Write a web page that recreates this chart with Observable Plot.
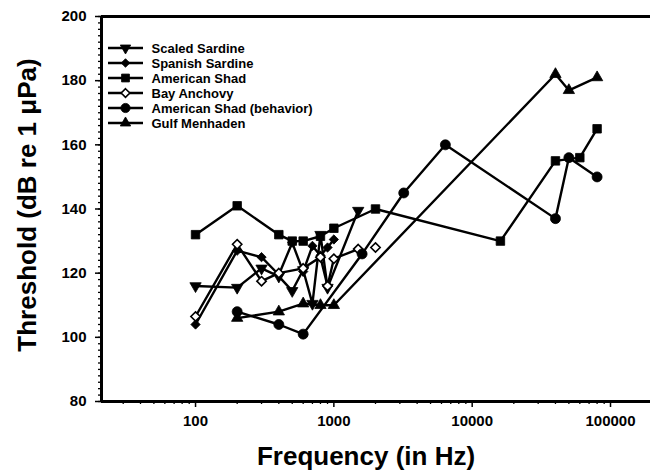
<!DOCTYPE html>
<html><head><meta charset="utf-8">
<script src="https://cdn.jsdelivr.net/npm/d3@7"></script>
<script src="https://cdn.jsdelivr.net/npm/@observablehq/plot@0.6"></script>
<style>
body{margin:0;background:#fff;}
#chart{position:relative;width:650px;height:472px;}
#legend{position:absolute;left:0;top:0;pointer-events:none;}
</style></head><body><div id="chart"></div>
<script>
// ---- data ----
const species = ["Scaled Sardine","Spanish Sardine","American Shad","Bay Anchovy","American Shad (behavior)","Gulf Menhaden"];
const symbols = ["triangle","diamond2","square","diamond2","circle","triangle"];
const rotations = [180,0,0,0,0,0];
const fills = ["black","black","black","white","black","black"];
const symbolR = [4.2,4.2,4.8,4.2,5,4.2];

const scaledSardineHz = [100,200,300,400,500,600,700,800,900,1500];
const scaledSardineDb = [116,115.5,121.5,119,114.5,121,110.5,132,115.5,139.5];
const spanishSardineHz = [100,200,300,400,500,600,700,800,900,1000];
const spanishSardineDb = [104,127,125,119.5,129.5,120.5,128.5,125.5,128,130.5];
const americanShadHz = [100,200,400,500,600,800,1000,2000,16000,40000,60000,80000];
const americanShadDb = [132,141,132,130,130,131.5,134,140,130,155,156,165];
const bayAnchovyHz = [100,200,300,400,600,800,900,1000,1500];
const bayAnchovyDb = [106.5,129,117.5,120,121.5,125,116,124.5,127.5];
const bayAnchovyLoneHz = [2000];
const bayAnchovyLoneDb = [128];
const shadBehaviorHz = [200,400,600,1600,3200,6400,40000,50000,80000];
const shadBehaviorDb = [108,104,101,126,145,160,137,156,150];
const gulfMenhadenHz = [200,400,600,800,1000,40000,50000,80000];
const gulfMenhadenDb = [106,108,110.5,110,110,182,177,181];

const seriesHz = [scaledSardineHz,spanishSardineHz,americanShadHz,bayAnchovyHz,shadBehaviorHz,gulfMenhadenHz];
const seriesDb = [scaledSardineDb,spanishSardineDb,americanShadDb,bayAnchovyDb,shadBehaviorDb,gulfMenhadenDb];

const xTicks = [100,1000,10000,100000];
const xTickLabels = ["100","1000","10000","100000"];
const yTicks = [80,100,120,140,160,180,200];
const xTitle = "Frequency (in Hz)";
const yTitle = "Threshold (dB re 1 \u03bcPa)";

// ---- build tables ----
const lineRows = [];
species.forEach((s,i)=>seriesHz[i].forEach((h,j)=>lineRows.push({species:s,hz:h,db:seriesDb[i][j]})));
const loneRows = bayAnchovyLoneHz.map((h,j)=>({species:"Bay Anchovy",hz:h,db:bayAnchovyLoneDb[j]}));

const xMinor = [];
for (const dec of [10,100,1000,10000,100000]) for (let m=2;m<=9;m++){ const v=dec*m; if (v>21 && v<194000) xMinor.push(v); }
const yMinor = d3.range(80,201,2);

const xDomain = [20.9,194600];
const font = "'Liberation Sans', Arial, Helvetica, sans-serif";

const dotMarks = species.map((s,i)=>Plot.dot(
  lineRows.filter(d=>d.species===s).concat(loneRows.filter(d=>d.species===s)),
  {x:"hz",y:"db",symbol:symbols[i],r:symbolR[i],fill:fills[i],stroke:"black",strokeWidth:i===3?1.6:0.8,rotate:rotations[i]}
));

const chart = Plot.plot({
  width:650, height:472, marginLeft:101, marginRight:0, marginTop:16, marginBottom:71,
  style:{fontFamily:font, fontWeight:"bold", background:"white", color:"black", overflow:"visible"},
  x:{type:"log", domain:xDomain},
  y:{domain:[80,200]},
  marks:[
    Plot.axisY({ticks:yMinor, tickSize:3, tickFormat:()=>"", label:null, strokeWidth:1.3}),
    Plot.axisY({ticks:yTicks, tickSize:6, tickPadding:9, fontSize:15, label:null, strokeWidth:1.5}),
    Plot.axisX({ticks:xMinor, tickSize:3, tickFormat:()=>"", label:null, strokeWidth:1.3}),
    Plot.axisX({ticks:xTicks, tickSize:6, tickPadding:8, tickFormat:d=>xTickLabels[xTicks.indexOf(d)], fontSize:15, label:null, strokeWidth:1.5}),
    Plot.ruleY([80],{strokeWidth:3}),
    Plot.ruleY([200],{strokeWidth:3}),
    Plot.ruleX([xDomain[0]],{strokeWidth:3}),
    Plot.line(lineRows,{x:"hz",y:"db",z:"species",stroke:"black",strokeWidth:2.4}),
    ...dotMarks,
    Plot.text([xTitle],{text:d=>d, frameAnchor:"bottom", textAnchor:"middle", lineAnchor:"middle", dx:-10, dy:55, fontSize:26, fontWeight:"bold", fill:"black"}),
    Plot.text([yTitle],{text:d=>d, frameAnchor:"left", textAnchor:"middle", lineAnchor:"middle", dx:-74, dy:-4, rotate:-90, fontSize:26, fontWeight:"bold", fill:"black"})
  ]
});
document.getElementById("chart").appendChild(chart);

// ---- legend overlay ----
const lg = d3.select("#chart").append("svg").attr("id","legend").attr("width",650).attr("height",472);
const symMap = {triangle:d3.symbolTriangle, diamond2:d3.symbolDiamond2, square:d3.symbolSquare, circle:d3.symbolCircle};
species.forEach((s,i)=>{
  const y = 48 + i*15;
  const g = lg.append("g");
  g.append("line").attr("x1",108).attr("x2",143).attr("y1",y).attr("y2",y).attr("stroke","black").attr("stroke-width",2.4);
  g.append("path").attr("d",d3.symbol(symMap[symbols[i]], Math.PI*symbolR[i]*symbolR[i]*0.85)())
    .attr("transform",`translate(125.5,${y}) rotate(${rotations[i]})`)
    .attr("fill",fills[i]).attr("stroke","black").attr("stroke-width",i===3?1.6:0.8);
  g.append("text").attr("x",151.5).attr("y",y).attr("dy","0.36em")
    .attr("font-family",font).attr("font-weight","bold").attr("font-size",13).text(s);
});
</script></body></html>
